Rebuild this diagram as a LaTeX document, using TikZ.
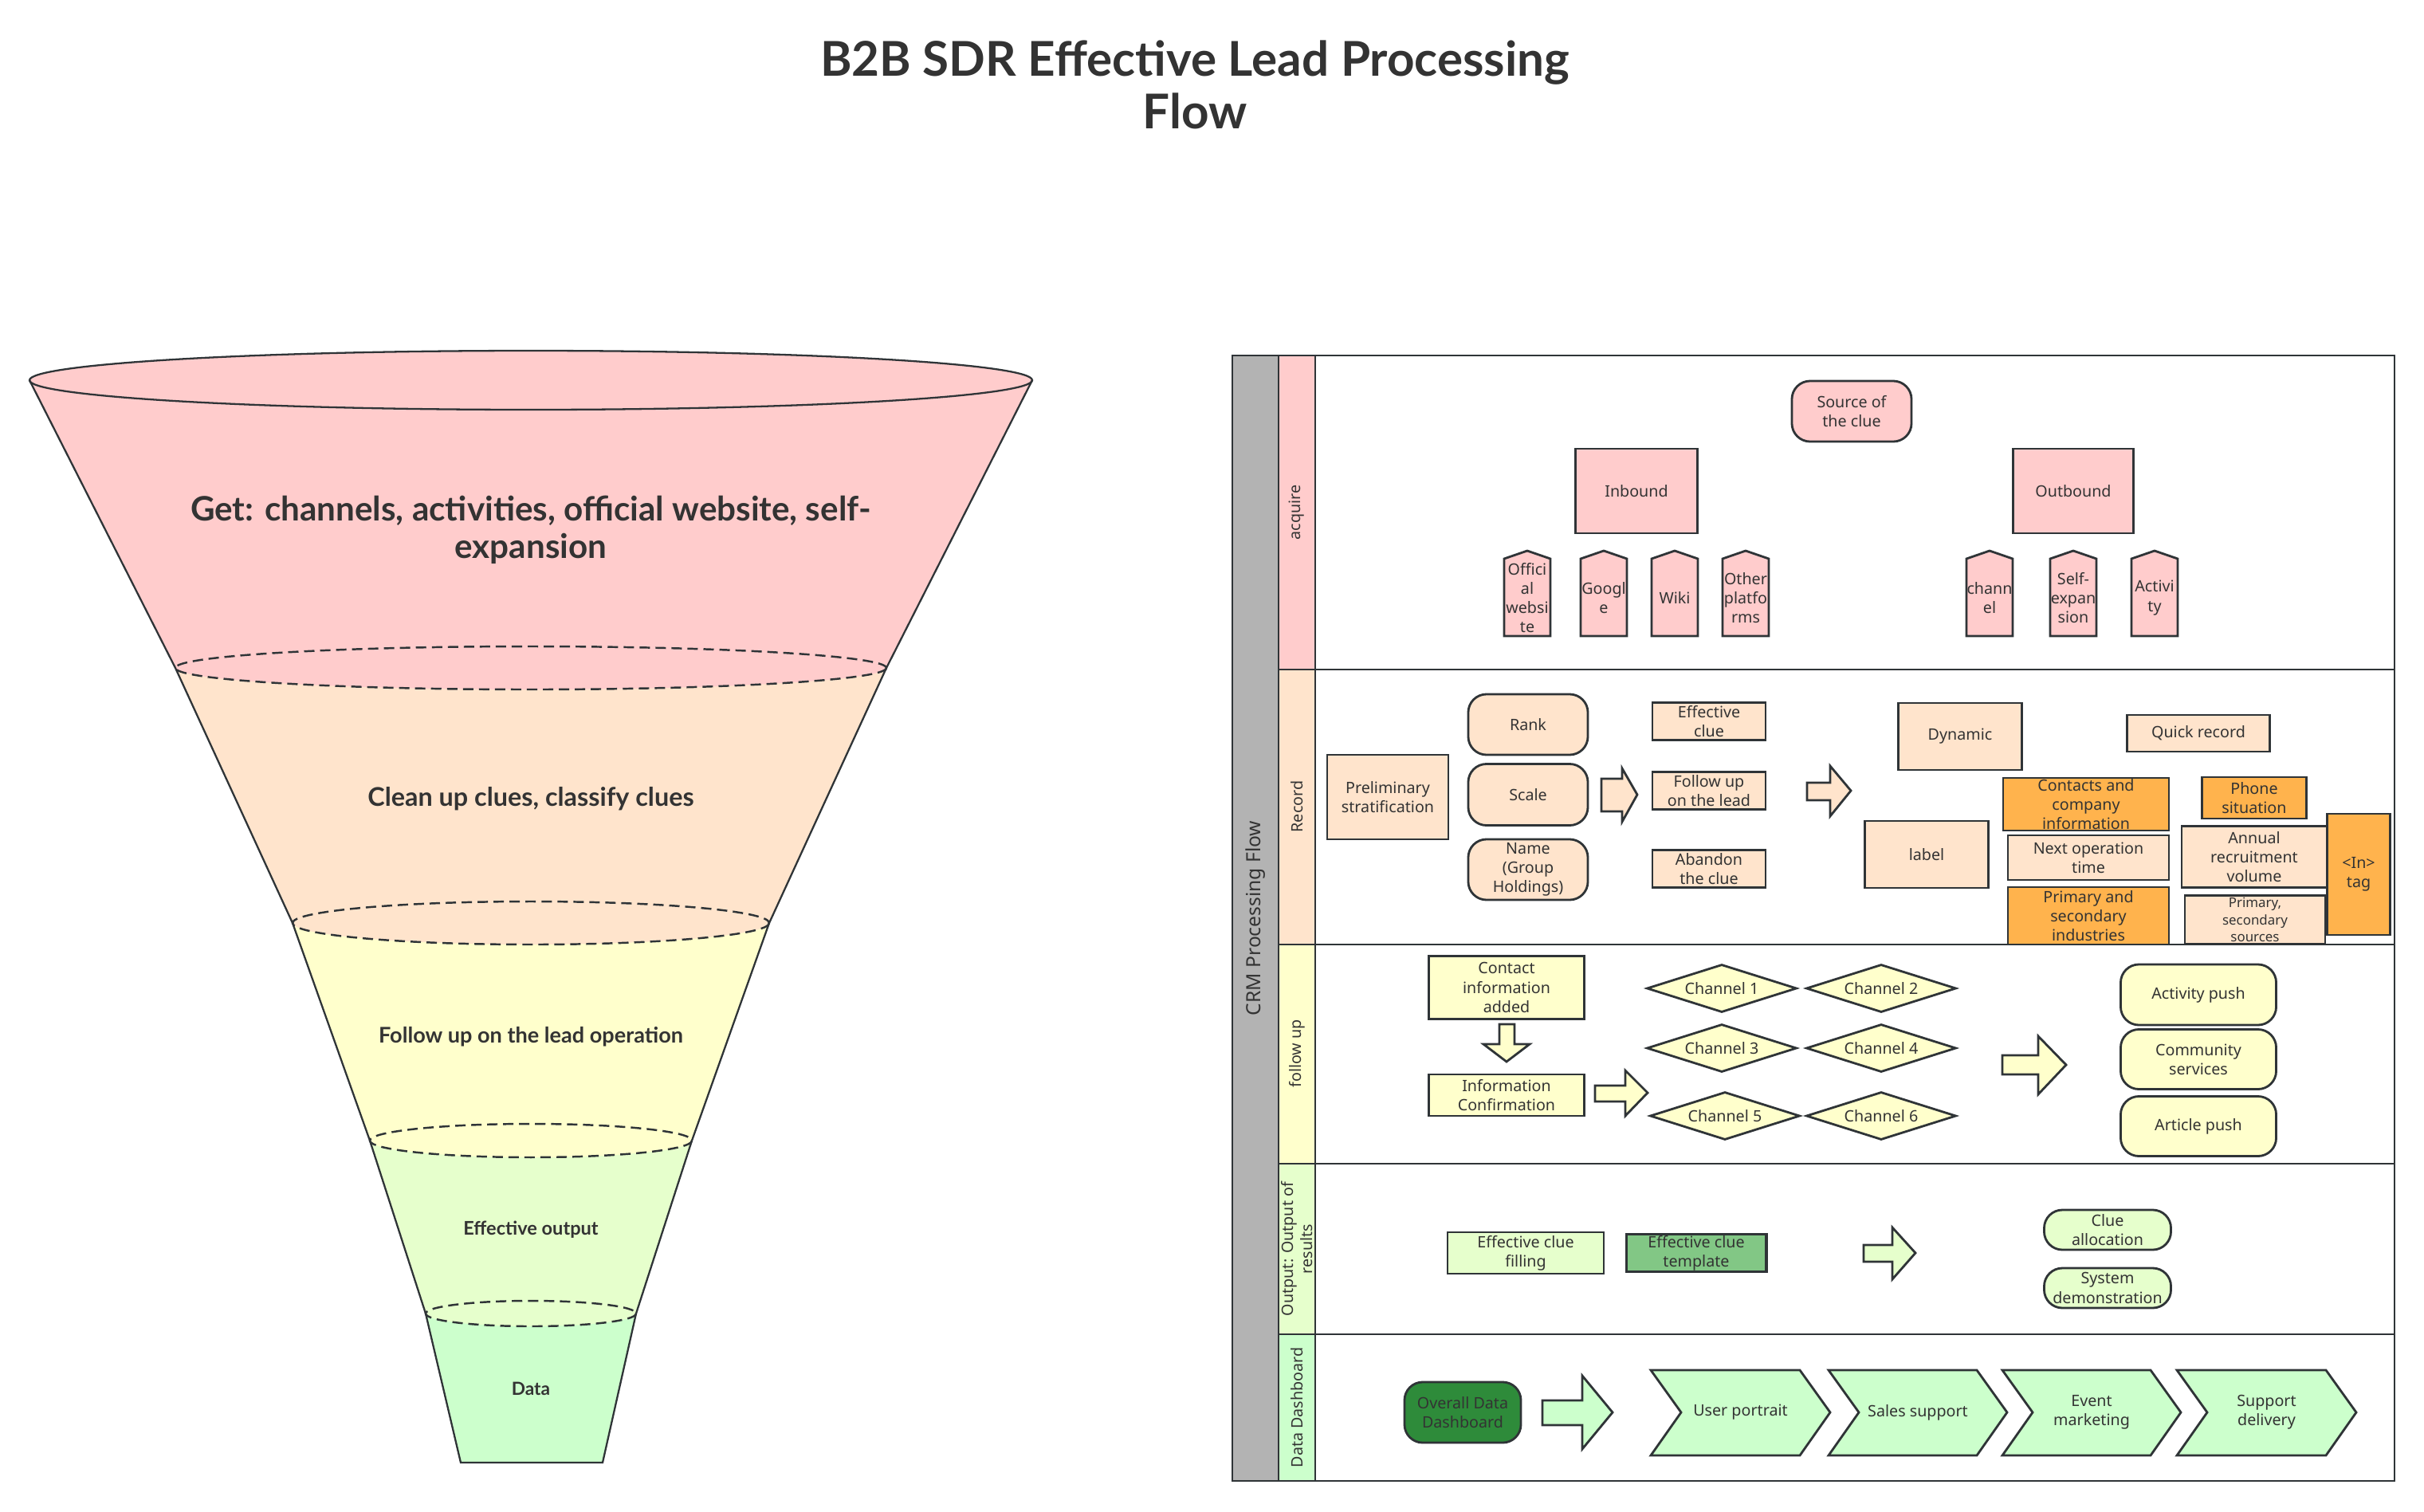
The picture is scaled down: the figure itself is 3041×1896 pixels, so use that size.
\documentclass[tikz,border=0pt]{standalone}
\usepackage{fontspec}
\setmainfont{Noto Sans}
\newfontfamily\headfont{Lato}
\usepackage{tikz}
\usetikzlibrary{shapes.geometric,positioning}
\usepackage{xcolor}

\definecolor{linec}{HTML}{2F3437}
\definecolor{textc}{HTML}{333333}
\definecolor{pinkc}{HTML}{FFCCCC}
\definecolor{peachc}{HTML}{FFE4CC}
\definecolor{yelc}{HTML}{FFFFCC}
\definecolor{lgrc}{HTML}{E6FFCC}
\definecolor{grc}{HTML}{CCFFCC}
\definecolor{orc}{HTML}{FFB34D}
\definecolor{tmplc}{HTML}{82C785}
\definecolor{dkgrc}{HTML}{2E8B3A}
\definecolor{grayc}{HTML}{B3B3B3}

\newcommand{\lanefont}{\fontsize{5.6}{6.9}\selectfont}

\begin{document}
\begin{tikzpicture}[x=0.01cm, y=-0.01cm,
    box/.style={draw=linec, line width=0.8pt, inner sep=0pt, align=center, text=textc, font=\lanefont},
    rbox/.style={box, rounded corners=6.5pt},
    chan/.style={box, diamond, aspect=3.1, fill=yelc, minimum width=1.88cm, minimum height=0.6cm},
    blk/.style={draw=linec, line width=0.8pt},
    lanetxt/.style={rotate=90, text=textc, font=\lanefont, align=center},
    funline/.style={draw=linec, line width=0.65pt},
    cut/.style={draw=linec, line width=0.7pt, dash pattern=on 3.7pt off 2pt},
    funtxt/.style={text=textc, align=center}]
    \useasboundingbox (0,0) rectangle (3041,1896);

    % Title
    \node[funtxt, font=\headfont\fontsize{17.1}{18.8}\selectfont\bfseries] (title) at (1499,106)
        {B2B SDR Effective Lead Processing\\Flow};

    % ---------------- Funnel (fills from the bottom up) ----------------
    \fill[grc] (534,1648) -- (578,1835) -- (756,1835) -- (798,1648) -- cycle;
    \fill[lgrc] (464,1431) -- (534,1648) -- (798,1648) -- (868,1431) -- cycle;
    \fill[lgrc] (666,1648) ellipse [x radius=132, y radius=16];
    \fill[yelc] (367,1158) -- (464,1431) -- (868,1431) -- (965,1158) -- cycle;
    \fill[yelc] (666,1431) ellipse [x radius=202, y radius=21];
    \fill[peachc] (220,838) -- (367,1158) -- (965,1158) -- (1112,838) -- cycle;
    \fill[peachc] (666,1158) ellipse [x radius=299, y radius=27];
    \fill[pinkc] (37,477) -- (220,838) -- (1112,838) -- (1295,477) -- cycle;
    \fill[pinkc] (666,838) ellipse [x radius=446, y radius=27];
    \fill[pinkc] (666,477) ellipse [x radius=629, y radius=37];

    % outline
    \draw[funline] (37,477) -- (220,838) -- (367,1158) -- (464,1431) -- (534,1648) -- (578,1835)
        -- (756,1835) -- (798,1648) -- (868,1431) -- (965,1158) -- (1112,838) -- (1295,477);
    \draw[funline] (666,477) ellipse [x radius=629, y radius=37];
    \draw[cut] (666,838) ellipse [x radius=446, y radius=27];
    \draw[cut] (666,1158) ellipse [x radius=299, y radius=27];
    \draw[cut] (666,1431) ellipse [x radius=202, y radius=21];
    \draw[cut] (666,1648) ellipse [x radius=132, y radius=16];

    \node[funtxt, font=\headfont\fontsize{12}{13.2}\selectfont\bfseries] (fget) at (666,665)
        {Get: channels, activities, official website, self-\\expansion};
    \node[funtxt, font=\headfont\fontsize{9.2}{10}\selectfont\bfseries] (fclean) at (666,1002) {Clean up clues, classify clues};
    \node[funtxt, font=\headfont\fontsize{7.7}{8}\selectfont\bfseries] (ffollow) at (666,1301) {Follow up on the lead operation};
    \node[funtxt, font=\headfont\fontsize{6.7}{7}\selectfont\bfseries] (fout) at (666,1543) {Effective output};
    \node[funtxt, font=\headfont\fontsize{6.45}{7}\selectfont\bfseries] (fdata) at (666,1742) {Data};

    % ---------------- Swimlane frame ----------------
    \fill[grayc] (1546,446) rectangle (1604,1858);
    \fill[pinkc] (1604,446) rectangle (1650,840);
    \fill[peachc] (1604,840) rectangle (1650,1185);
    \fill[yelc] (1604,1185) rectangle (1650,1460);
    \fill[lgrc] (1604,1460) rectangle (1650,1674);
    \fill[grc] (1604,1674) rectangle (1650,1858);
    \draw[blk] (1546,446) rectangle (3004,1858);
    \draw[blk] (1604,446) -- (1604,1858);
    \draw[blk] (1650,446) -- (1650,1858);
    \foreach \y in {840,1185,1460,1674}
        \draw[blk] (1604,\y) -- (3004,\y);

    \node[lanetxt, font=\fontsize{7}{8}\selectfont] (crm) at (1575,1152) {CRM Processing Flow};
    \node[lanetxt] (lacq) at (1627,643) {acquire};
    \node[lanetxt] (lrec) at (1627,1012) {Record};
    \node[lanetxt] (lfol) at (1627,1322) {follow up};
    \node[lanetxt] (lout) at (1627,1567) {Output: Output of\\results};
    \node[lanetxt] (ldat) at (1627,1766) {Data Dashboard};

    % ---------------- acquire ----------------
    \node[rbox, fill=pinkc, minimum width=1.5cm, minimum height=0.76cm] (src) at (2323,516) {Source of\\the clue};
    \node[box, fill=pinkc, minimum width=1.53cm, minimum height=1.06cm] (inb) at (2053,616) {Inbound};
    \node[box, fill=pinkc, minimum width=1.51cm, minimum height=1.06cm] (outb) at (2601,616) {Outbound};
    \foreach \xa/\t/\n in {1887/{Offici\\al\\websi\\te}/web, 1983/{Googl\\e}/goo, 2072/{Wiki}/wiki,
                           2161/{Other\\platfo\\rms}/oth, 2467/{chann\\el}/chn, 2572/{Self-\\expan\\sion}/selfx,
                           2674/{Activi\\ty}/actv}{
        \draw[blk, fill=pinkc] (\xa,798) -- (\xa,701) -- (\xa+29,691) -- (\xa+58,701) -- (\xa+58,798) -- cycle;
        \node[funtxt, font=\lanefont, inner sep=0pt] (\n) at (\xa+29,750) {\t};
    }

    % ---------------- Record ----------------
    \node[box, fill=peachc, minimum width=1.52cm, minimum height=1.06cm] (pre) at (1741,1000) {Preliminary\\stratification};
    \node[rbox, fill=peachc, minimum width=1.5cm, minimum height=0.76cm] (rank) at (1917,909) {Rank};
    \node[rbox, fill=peachc, minimum width=1.5cm, minimum height=0.77cm] (scale) at (1917,997) {Scale};
    \node[rbox, fill=peachc, minimum width=1.5cm, minimum height=0.76cm] (name) at (1917,1091) {Name\\(Group\\Holdings)};
    % arrow to the lead states
    \draw[blk, fill=peachc] (2009,977) -- (2035,977) -- (2035,964) -- (2054,997) -- (2035,1031) -- (2035,1018) -- (2009,1018) -- cycle;
    \node[box, fill=peachc, minimum width=1.42cm, minimum height=0.47cm] (eff) at (2144,905) {Effective\\clue};
    \node[box, fill=peachc, minimum width=1.42cm, minimum height=0.47cm] (fol) at (2144,992) {Follow up\\on the lead};
    \node[box, fill=peachc, minimum width=1.42cm, minimum height=0.47cm] (aba) at (2144,1090) {Abandon\\the clue};
    % arrow to the record fields
    \draw[blk, fill=peachc] (2267,982) -- (2296,982) -- (2296,961) -- (2322,992) -- (2296,1024) -- (2296,1004) -- (2267,1004) -- cycle;
    \node[box, fill=peachc, minimum width=1.55cm, minimum height=0.84cm] (dyn) at (2459,924) {Dynamic};
    \node[box, fill=peachc, minimum width=1.79cm, minimum height=0.46cm] (quick) at (2758,920) {Quick record};
    \node[box, fill=peachc, minimum width=1.55cm, minimum height=0.84cm] (lbl) at (2417,1072) {label};
    \node[box, fill=orc, minimum width=2.08cm, minimum height=0.66cm, inner ysep=-2pt] (cont) at (2617,1009) {Contacts and\\company\\information};
    \node[box, fill=peachc, minimum width=2.02cm, minimum height=0.56cm] (nxt) at (2620,1076) {Next operation\\time};
    \node[box, fill=orc, minimum width=2.02cm, minimum height=0.72cm] (prim) at (2620,1149) {Primary and\\secondary\\industries};
    \node[box, fill=orc, minimum width=1.31cm, minimum height=0.52cm] (phone) at (2828,1001) {Phone\\situation};
    \node[box, fill=peachc, minimum width=1.82cm, minimum height=0.77cm] (annual) at (2828,1075) {Annual\\recruitment\\volume};
    \node[box, fill=peachc, minimum width=1.76cm, minimum height=0.61cm, font=\fontsize{4.8}{6.2}\selectfont] (psrc) at (2829,1154) {Primary,\\secondary\\sources};
    \node[box, fill=orc, minimum width=0.79cm, minimum height=1.52cm] (intag) at (2959,1097) {<In>\\tag};

    % ---------------- follow up ----------------
    \node[box, fill=yelc, minimum width=1.95cm, minimum height=0.79cm] (cia) at (1890,1239) {Contact\\information\\added};
    \draw[blk, fill=yelc] (1881,1285) -- (1900,1285) -- (1900,1310) -- (1919,1310) -- (1890,1332) -- (1861,1310) -- (1881,1310) -- cycle;
    \node[box, fill=yelc, minimum width=1.95cm, minimum height=0.52cm] (icf) at (1890,1374) {Information\\Confirmation};
    \draw[blk, fill=yelc] (2001,1362) -- (2039,1362) -- (2039,1343) -- (2067,1371) -- (2039,1400) -- (2039,1382) -- (2001,1382) -- cycle;
    \node[chan] (ch1) at (2160,1240) {Channel 1};
    \node[chan] (ch2) at (2360,1240) {Channel 2};
    \node[chan] (ch3) at (2160,1315) {Channel 3};
    \node[chan] (ch4) at (2360,1315) {Channel 4};
    \node[chan] (ch5) at (2164,1400) {Channel 5};
    \node[chan] (ch6) at (2360,1400) {Channel 6};
    \draw[blk, fill=yelc] (2512,1324) -- (2557,1324) -- (2557,1300) -- (2592,1336) -- (2557,1373) -- (2557,1348) -- (2512,1348) -- cycle;
    \node[rbox, fill=yelc, minimum width=1.95cm, minimum height=0.76cm] (actp) at (2758,1248) {Activity push};
    \node[rbox, fill=yelc, minimum width=1.95cm, minimum height=0.75cm] (comm) at (2758,1329) {Community\\services};
    \node[rbox, fill=yelc, minimum width=1.95cm, minimum height=0.75cm] (artp) at (2758,1413) {Article push};

    % ---------------- Output ----------------
    \node[box, fill=lgrc, minimum width=1.96cm, minimum height=0.52cm] (ecf) at (1914,1572) {Effective clue\\filling};
    \node[box, fill=tmplc, line width=1.1pt, minimum width=1.75cm, minimum height=0.47cm] (ect) at (2128,1572) {Effective clue\\template};
    \draw[blk, fill=lgrc] (2338,1562) -- (2374,1562) -- (2374,1540) -- (2403,1572) -- (2374,1605) -- (2374,1583) -- (2338,1583) -- cycle;
    \node[rbox, fill=lgrc, minimum width=1.59cm, minimum height=0.5cm] (calloc) at (2644,1543) {Clue\\allocation};
    \node[rbox, fill=lgrc, minimum width=1.59cm, minimum height=0.5cm] (sysd) at (2644,1616) {System\\demonstration};

    % ---------------- Data Dashboard ----------------
    \node[rbox, fill=dkgrc, minimum width=1.46cm, minimum height=0.76cm] (odd) at (1835,1772) {Overall Data\\Dashboard};
    \draw[blk, fill=grc] (1935,1757) -- (1985,1757) -- (1985,1726) -- (2023,1772) -- (1985,1818) -- (1985,1788) -- (1935,1788) -- cycle;
    \foreach \xa/\xb/\t/\n in {2071/2296/{User portrait}/upor, 2294/2518/{Sales support}/ssup,
                               2512/2736/{Event\\marketing}/evm, 2731/2956/{Support\\delivery}/sdel}{
        \draw[blk, fill=grc] (\xa,1719) -- (\xb-38,1719) -- (\xb,1772) -- (\xb-38,1826) -- (\xa,1826) -- (\xa+38,1772) -- cycle;
        \node[funtxt, font=\lanefont, inner sep=0pt] (\n) at ({(\xa+\xb)/2},1772) {\t};
    }
\end{tikzpicture}
\end{document}
